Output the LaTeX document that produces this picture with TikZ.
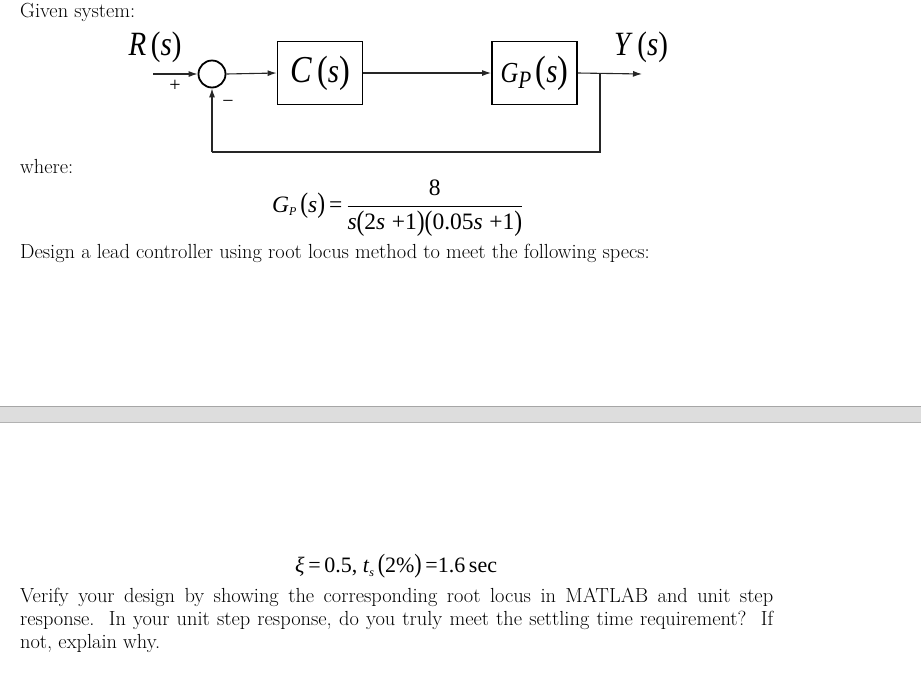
\documentclass[tikz,border=0pt]{standalone}
\usepackage{fontspec}
\usepackage{graphicx}
\usetikzlibrary{arrows.meta}
\newfontfamily\tnr{Liberation Serif}
\newcommand\bodyfont{\fontsize{20.4}{24}\selectfont}
\newcommand\eqfont{\tnr\fontsize{23.5}{27}\selectfont}
\newcommand\specfont{\tnr\fontsize{22}{26}\selectfont}
\newcommand\myl{\raisebox{-0.04em}{\scalebox{1}[1.2]{(}}}
\newcommand\myr{\raisebox{-0.04em}{\scalebox{1}[1.2]{)}}}
\newcommand\dsize[1]{\fontsize{#1}{#1}\selectfont}
\newcommand\dlab[1]{\scalebox{0.85}[1]{\tnr\dsize{34}#1}}
\begin{document}
\begin{tikzpicture}[x=1pt,y=-1pt,
  txt/.style={anchor=base west, inner sep=0pt, font=\bodyfont},
  blk/.style={draw, line width=1.8pt, minimum width=85pt, minimum height=63pt, inner sep=0pt},
  sumnode/.style={draw, circle, line width=1.8pt, minimum size=27pt, inner sep=0pt},
  conn/.style={line width=1.1pt, draw=black!85},
  arr/.style={conn, -{Latex[length=9pt,width=6pt]}},
  lab/.style={inner sep=0pt}]
\useasboundingbox (0,0) rectangle (921,673);
\fill[white] (0,0) rectangle (921,673);

% texts
\node[txt] (given) at (20,17) {Given system:};
\node[txt] (where) at (20,173) {where:};
\node[txt] (design) at (20,258) {Design a lead controller using root locus method to meet the following specs:};

% gray band
\fill[gray!27] (0,406) rectangle (921,423);
\draw[gray!70, line width=1.2pt] (0,406.6) -- (921,406.6);
\draw[gray!60, line width=1pt] (0,422.5) -- (921,422.5);

% block diagram
\node[sumnode] (sum) at (212,74) {};
\node[blk] (C) at (320,73) {\dlab{\dsize{38}\textit{C}\,(\dsize{34}\textit{s}\dsize{38})}};
\node[blk] (Gp) at (534.5,73) {\dlab{\dsize{29}\textit{G}\raisebox{-6pt}{\dsize{25}\textit{P}}\,\dsize{38}(\dsize{34}\textit{s}\dsize{38})}};
\node[lab] (R) at (155,47) {\dlab{\textit{R}\,(\textit{s})}};
\node[lab] (Y) at (641,47) {\dlab{\textit{Y}\,(\textit{s})}};
\node[lab, font=\tnr\dsize{20}] (plus) at (175,86) {+};
\node[lab, font=\tnr\dsize{20}] (minus) at (228,104) {−};
\coordinate (in) at (153,74);
\coordinate (branch) at (600,74);
\coordinate (out) at (642,74);
\coordinate (fb) at (212,152);
\draw[arr] (in) -- (sum.west);
\draw[arr] (sum.east) -- (C.west);
\draw[arr] (C.east) -- (Gp.west);
\draw[arr] (Gp.east) -- (out);
\draw[conn] (branch) |- (fb);
\draw[arr] (fb) -- (sum.south);

% Gp equation
\node[anchor=base west, inner sep=0pt, font=\eqfont] (gpeq) at (272,212)
  {\textit{G}\raisebox{-3pt}{\dsize{12}\textit{P}}\,\myl\textit{s}\myr\,=\,$\displaystyle\frac{\hbox{8}}{\hbox{\textit{s}\myl 2\textit{s}\;+1\myr\myl 0.05\textit{s}\;+1\myr}}$};

% specs
\node[anchor=base west, inner sep=0pt, font=\specfont] (spec) at (295,572)
  {\textit{ξ}\,=\,0.5,\ \textit{t}\raisebox{-4pt}{\dsize{12}\textit{s}}\,\myl 2\%\myr\,=1.6\,sec};

\node[txt] (v1) at (20,602) {\makebox[753pt][s]{Verify your design by showing the corresponding root locus in MATLAB and unit step}};
\node[txt] (v2) at (20,625) {\makebox[753pt][s]{response.\ \ In your unit step response, do you truly meet the settling time requirement?\ \ If}};
\node[txt] (v3) at (20,648) {not, explain why.};
\end{tikzpicture}
\end{document}
